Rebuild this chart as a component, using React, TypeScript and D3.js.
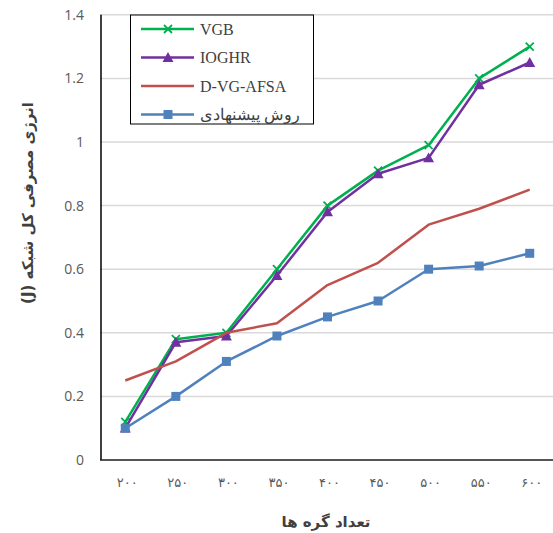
import React from "react";
import * as d3 from "d3";

const categories = ["۲۰۰", "۲۵۰", "۳۰۰", "۳۵۰", "۴۰۰", "۴۵۰", "۵۰۰", "۵۵۰", "۶۰۰"];
const vgb = [0.12, 0.38, 0.40, 0.60, 0.80, 0.91, 0.99, 1.20, 1.30];
const ioghr = [0.10, 0.37, 0.39, 0.58, 0.78, 0.90, 0.95, 1.18, 1.25];
const dvgafsa = [0.25, 0.31, 0.40, 0.43, 0.55, 0.62, 0.74, 0.79, 0.85];
const proposed = [0.10, 0.20, 0.31, 0.39, 0.45, 0.50, 0.60, 0.61, 0.65];
const yTicks = [0, 0.2, 0.4, 0.6, 0.8, 1, 1.2, 1.4];
const seriesNames = ["VGB", "IOGHR", "D-VG-AFSA", "روش پیشنهادی"];

const W = 553, H = 533;
const left = 100, right = 555, top = 14.8, bottom = 460;

export default function App() {
  const x = d3.scaleBand<string>().domain(categories).range([left, right]);
  const y = d3.scaleLinear().domain([0, 1.4]).range([bottom, top]);
  const cx = (c: string) => (x(c) as number) + x.bandwidth() / 2;
  const line = d3.line<[string, number]>().x(d => cx(d[0])).y(d => y(d[1]));

  const series = [
    { name: seriesNames[0], data: vgb, color: "#00B050", marker: "x" },
    { name: seriesNames[1], data: ioghr, color: "#7030A0", marker: "tri" },
    { name: seriesNames[2], data: dvgafsa, color: "#C0504D", marker: "none" },
    { name: seriesNames[3], data: proposed, color: "#4F81BD", marker: "sq" },
  ];

  const marker = (m: string, px: number, py: number, color: string, key: any) => {
    if (m === "x") {
      const s = 4;
      return (
        <path key={key} d={`M${px - s},${py - s}L${px + s},${py + s}M${px - s},${py + s}L${px + s},${py - s}`}
          stroke={color} strokeWidth={1.8} fill="none" />
      );
    }
    if (m === "tri") {
      const s = 5.5;
      return <path key={key} d={`M${px},${py - s}L${px + s},${py + s * 0.8}L${px - s},${py + s * 0.8}Z`} fill={color} />;
    }
    if (m === "sq") {
      const s = 4.5;
      return <rect key={key} x={px - s} y={py - s} width={2 * s} height={2 * s} fill={color} />;
    }
    return null;
  };

  return (
    <svg width={W} height={H} style={{ position: "absolute", left: 0, top: 0, background: "#fff" }}>
      {yTicks.map(t => (
        <line key={t} x1={left} x2={W} y1={y(t)} y2={y(t)} stroke="#d9d9d9" strokeWidth={1.5} />
      ))}
      {yTicks.map(t => (
        <text key={"l" + t} x={84} y={y(t)} dy="0.35em" textAnchor="end" fontFamily="'Open Sans', sans-serif"
          fontSize={14} fill="#595959">{String(t)}</text>
      ))}
      <line x1={left + 1} x2={left + 1} y1={top} y2={bottom} stroke="#000" strokeWidth={1.5} />
      <line x1={left} x2={W} y1={bottom} y2={bottom} stroke="#262626" strokeWidth={1.5} />
      {categories.map(c => (
        <text key={c} x={cx(c) + 2} y={487} textAnchor="middle" fontFamily="'DejaVu Sans', sans-serif" fontSize={13}
          letterSpacing={5} fill="#595959" direction="ltr">{c}</text>
      ))}
      <text x={326} y={527} textAnchor="middle" fontFamily="'DejaVu Sans', sans-serif" fontWeight="bold" fontSize={15}
        fill="#404040" direction="rtl">تعداد گره ها</text>
      <text transform={`translate(33,203) rotate(-90)`} textAnchor="middle" fontFamily="'DejaVu Sans', sans-serif"
        fontWeight="bold" fontSize={15} fill="#404040" direction="rtl">انرژی مصرفی کل شبکه (J)</text>
      {series.map((s, i) => (
        <g key={i}>
          <path d={line(categories.map((c, j) => [c, s.data[j]] as [string, number])) as string}
            fill="none" stroke={s.color} strokeWidth={2.5} strokeLinejoin="round" />
          {s.data.map((v, j) => marker(s.marker, cx(categories[j]), y(v), s.color, j))}
        </g>
      ))}
      <rect x={130.5} y={15} width={183} height={109} fill="#fff" stroke="#000" strokeWidth={1} />
      {series.map((s, i) => {
        const ly = 29 + i * 28.5;
        return (
          <g key={"lg" + i}>
            <line x1={141} x2={194} y1={ly} y2={ly} stroke={s.color} strokeWidth={2.5} />
            {marker(s.marker, 168, ly, s.color, "m")}
            <text x={200} y={ly} dy="0.35em" fontFamily="'Liberation Serif', serif" fontSize={16} fill="#404040">
              {s.name}
            </text>
          </g>
        );
      })}
    </svg>
  );
}
